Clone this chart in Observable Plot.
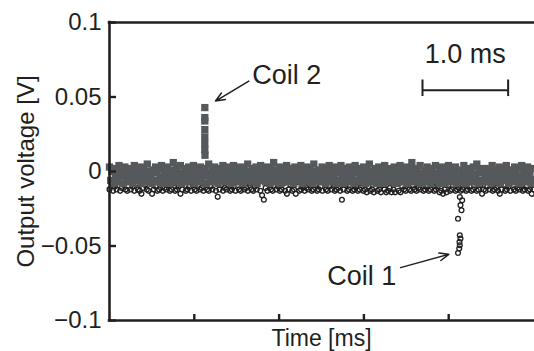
<!DOCTYPE html>
<html><head><meta charset="utf-8">
<script src="https://cdn.jsdelivr.net/npm/d3@7"></script>
<script src="https://cdn.jsdelivr.net/npm/@observablehq/plot@0.6"></script>
<style>
html,body{margin:0;padding:0;background:#fff;}
#chart svg{display:block;}
</style></head><body><div id="chart"></div>
<script>
// ---- axes ----
const xDomain = [0, 5];            // Time [ms]
const yDomain = [-0.1, 0.1];       // Output voltage [V]
const xTicks = [1, 2, 3, 4];
const yTicks = [0.1, 0.05, 0, -0.05, -0.1];
const yTickLabels = ["0.1", "0.05", "0", "\u22120.05", "\u22120.1"];
const xTitle = "Time [ms]";
const yTitle = "Output voltage [V]";

// ---- Coil 2 (grey squares): baseline noise in mV, evenly sampled over 0–5 ms ----
const coil2NoiseMv = [
 3,-6,0,-8,2,-4,-1,-7,4,-3,1,-8,-2,3,-5,0,-7,2,-4,-1,
 -8,4,-3,1,-6,-1,3,-8,-4,2,-2,-7,5,-5,0,-3,-8,1,-6,3,
 -1,-7,2,-4,4,-8,-2,0,-6,3,-3,-8,1,-5,6,-1,-7,2,-4,-2,
 4,-8,-1,-5,2,-3,-7,3,0,-6,-2,4,-8,1,-4,-1,-7,3,-5,0,
 -3,2,-8,-1,5,-6,-2,1,-7,3,-4,0,-8,2,-3,-6,4,-1,-7,1,
 -5,3,-2,-8,0,4,-6,-3,2,-7,-1,3,-4,-8,1,-2,-6,5,-3,0,
 -7,2,-1,-5,3,-8,0,-3,4,-6,-2,1,-7,3,-4,-1,-8,2,-5,6,
 -2,-7,1,-4,3,-8,-1,2,-6,-3,4,-7,0,-5,2,-2,-8,3,-4,-1,
 1,-6,4,-8,-2,0,-5,3,-7,-1,2,-4,-8,5,-3,0,-6,1,-7,-2,
 3,-5,-1,-8,2,-3,4,-7,0,-4,-2,3,-8,1,-6,-1,4,-5,-8,2,
 -3,0,-7,3,-2,-5,1,-8,4,-1,-6,2,-4,-7,0,3,-3,-8,1,-5,
 5,-2,-7,0,-4,2,-8,-1,3,-6,-3,1,-8,4,-2,-5,0,-7,2,-4,
 -1,3,-8,-3,1,-6,4,-2,-7,0,-4,3,-8,-1,2,-5,6,-3,-7,0,
 2,-6,-2,4,-8,-1,-4,1,-7,3,-3,0,-8,2,-5,-1,4,-6,-2,-8,
 0,3,-5,-2,-8,1,-4,4,-7,-1,2,-6,-3,3,-8,0,-4,1,-7,-2,
 4,-3,-8,0,-5,2,-1,-7,3,-4,-2,5,-8,1,-6,-1,2,-7,-3,0,
 -6,2,-2,-8,4,-4,0,-7,1,-3,3,-8,-1,-5,2,-6,4,-2,-8,1,
 -4,0,-7,3,-1,-5,2,-8,-3,4,-6,1,-2,-7,3,-4,0,-8,2,-5
];
// Coil 2 pulse (ms, mV)
const coil2PulseMs = [1.124, 1.124, 1.124, 1.124, 1.124, 1.124, 1.124, 1.126];
const coil2PulseMv = [42.9, 36.2, 33.9, 28.1, 23.2, 18.7, 14.7, 10.9];

// ---- Coil 1 (black open circles): baseline noise in mV, evenly sampled over 0–5 ms ----
const coil1NoiseMv = [
 -12,-7,-13,-10,-12,-5,-13,-11,-9,-12,-13,-6,-12,-10,-13,-8,-12,-13,-15,-11,
 -9,-12,-13,-7,-15,-12,-10,-13,-12,-6,-13,-11,-12,-9,-13,-12,-8,-13,-12,-10,
 -15,-12,-7,-13,-12,-10,-13,-9,-12,-13,-6,-12,-11,-13,-8,-12,-13,-10,-12,-7,
 -13,-17,-12,-9,-13,-11,-12,-7,-13,-12,-10,-13,-6,-12,-13,-9,-12,-11,-13,-8,
 -12,-13,-10,-12,-7,-13,-16,-19,-11,-13,-9,-12,-13,-6,-12,-10,-13,-12,-8,-13,
 -15,-12,-9,-13,-12,-15,-7,-13,-12,-10,-13,-11,-12,-6,-13,-12,-9,-13,-12,-10,
 -13,-7,-12,-13,-10,-12,-8,-13,-12,-11,-13,-19,-12,-9,-13,-12,-6,-13,-12,-10,
 -13,-12,-8,-13,-12,-14,-10,-13,-12,-14,-7,-13,-12,-14,-9,-12,-14,-13,-11,-14,
 -12,-14,-8,-13,-14,-10,-12,-13,-7,-12,-13,-9,-12,-13,-11,-12,-6,-13,-12,-10,
 -13,-12,-8,-13,-12,-10,-14,-13,-15,-12,-14,-9,-13,-12,-7,-13,-12,-11,-13,-12,
 -8,-13,-12,-10,-13,-12,-7,-13,-12,-9,-15,-12,-13,-10,-12,-6,-13,-12,-11,-13,
 -15,-12,-9,-13,-12,-10,-13,-7,-12,-13,-11,-12,-8,-13,-12,-10,-13,-12,-15,-12
];
// Coil 1 pulse (ms, mV)
const coil1PulseMs = [4.131, 4.159, 4.139, 4.151, 4.110, 4.131, 4.139, 4.127, 4.131, 4.124, 4.110];
const coil1PulseMv = [-17.1, -19.3, -22.6, -26.0, -31.7, -42.8, -45.0, -47.3, -49.5, -51.7, -54.7];

// ---- annotations ----
const labelText = ["Coil 2", "Coil 1"];
const labelMs = [1.683, 2.567];
const labelV = [0.0646, -0.0703];
const arrowFromMs = [1.643, 3.432];
const arrowFromV = [0.0607, -0.0645];
const arrowToMs = [1.25, 4.001];
const arrowToV = [0.0473, -0.0556];
const scaleBarText = "1.0 ms";
const scaleBarMs = [3.691, 4.701];   // 1.0 ms long
const scaleBarV = 0.0545;
const scaleCapV = [0.0503, 0.0614];
const scaleTextV = 0.0787;

// ---- build tables ----
const toV = mv => mv / 1000;
const coil2 = coil2NoiseMv.map((mv, i) => ({t: i * xDomain[1] / (coil2NoiseMv.length - 1), v: toV(mv)}))
  .concat(coil2PulseMs.map((t, i) => ({t, v: toV(coil2PulseMv[i])})));
const coil1 = coil1NoiseMv.map((mv, i) => ({t: i * xDomain[1] / (coil1NoiseMv.length - 1), v: toV(mv)}))
  .concat(coil1PulseMs.map((t, i) => ({t, v: toV(coil1PulseMv[i])})));
const labels = labelText.map((text, i) => ({text, t: labelMs[i], v: labelV[i]}));
const arrows = arrowFromMs.map((t, i) => ({t1: t, v1: arrowFromV[i], t2: arrowToMs[i], v2: arrowToV[i]}));

const ink = "#231f20";
const font = "'Liberation Sans', Arial, Helvetica, sans-serif";

const chart = Plot.plot({
  width: 534,
  height: 351,
  marginLeft: 109,
  marginRight: 1,
  marginTop: 22,
  marginBottom: 31,
  style: {fontFamily: font, background: "#fff", color: ink},
  x: {domain: xDomain},
  y: {domain: yDomain},
  marks: [
    // data
    Plot.dot(coil1, {x: "t", y: "v", r: 2.4, stroke: ink, strokeWidth: 1.3, fill: "none"}),
    Plot.dot(coil2, {x: "t", y: "v", symbol: "square", r: 4.1, fill: "#55595c"}),
    // frame (left, top, bottom)
    Plot.ruleX([xDomain[0]], {stroke: ink, strokeWidth: 2.6, strokeLinecap: "square"}),
    Plot.ruleY([yDomain[0], yDomain[1]], {stroke: ink, strokeWidth: 2.6, strokeLinecap: "square"}),
    // axes with inward ticks
    Plot.axisY({ticks: yTicks, tickSize: -7, tickPadding: 15, strokeWidth: 2.4, stroke: ink,
      tickFormat: d => yTickLabels[yTicks.indexOf(d)], fontSize: 24, fill: ink, label: null}),
    Plot.axisX({ticks: xTicks, tickSize: -6, tickPadding: 0, strokeWidth: 2.4, stroke: ink,
      tickFormat: () => "", label: null}),
    // axis titles
    Plot.text([xTitle], {frameAnchor: "bottom", dy: 18, lineAnchor: "middle", text: d => d, fontSize: 23, fill: ink}),
    Plot.text([yTitle], {frameAnchor: "left", dx: -83, rotate: -90, textAnchor: "middle", lineAnchor: "middle", text: d => d, fontSize: 24, fill: ink}),
    // annotations
    Plot.text(labels, {x: "t", y: "v", text: "text", textAnchor: "start", fontSize: 27, fill: ink}),
    Plot.arrow(arrows, {x1: "t1", y1: "v1", x2: "t2", y2: "v2", stroke: ink, strokeWidth: 1.5, headLength: 10, headAngle: 45}),
    Plot.ruleY([scaleBarV], {x1: scaleBarMs[0], x2: scaleBarMs[1], stroke: ink, strokeWidth: 2}),
    Plot.ruleX(scaleBarMs, {y1: scaleCapV[0], y2: scaleCapV[1], stroke: ink, strokeWidth: 2}),
    Plot.text([scaleBarText], {x: (scaleBarMs[0] + scaleBarMs[1]) / 2, y: scaleTextV, text: d => d, fontSize: 27, fill: ink})
  ]
});
document.getElementById("chart").appendChild(chart);
</script>
</body></html>
